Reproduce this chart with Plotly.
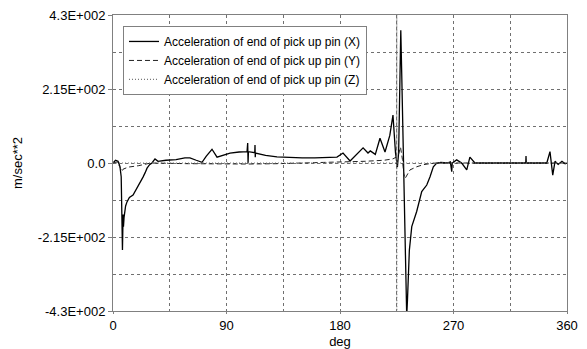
import plotly.graph_objects as go

# ---- data (deg, m/sec**2) ----
x_deg = [0, 2, 4, 5.5, 6.5, 7, 7.5, 8, 8.3, 8.8, 10, 11.1, 13, 15.9, 18, 19.8, 22, 23.8,
         25.5, 27, 29, 30.9, 33.3, 35.7, 42, 50, 57, 61, 66, 70.6, 74, 78.5, 82.5, 87,
         92.8, 100, 106.3, 106.8, 107.1, 107.4, 112.4, 112.6, 112.8, 113, 121, 130, 139,
         150, 160, 170, 177.6, 182.4, 188, 198.3, 202.2, 204, 208, 211.7, 215.7, 219.5,
         222, 224, 225.5, 226.5, 228.2, 229, 230.2, 231.5, 232.9, 233.5, 234.2, 235,
         236.9, 238.5, 240.8, 244.8, 248.8, 251.4, 254, 256.7, 260, 265, 267.5, 268.6,
         269, 272.5, 276.5, 280.5, 283, 287, 300, 327.3, 327.5, 327.7, 344, 346.5, 348.7,
         350.5, 353, 356, 358.5, 360]
x_acc = [0, 8, 5, -10, -40, -120, -253, -150, -185, -157, -125, -113, -100, -93, -80, -70,
         -55, -41, -28, -15, -5, 0, 12, 5, 8, 10, 15, 15, 8, 2, 20, 40, 17, 22,
         29, 32, 33, 58, 0, 33, 30, 52, 17, 29, 22, 18, 16,
         15, 15, 16, 17, 29, 6, 44, 29, 35, 25, 72, 32, 80,
         139, 30, -12, 30, 386, 250, 0, -200, -445, -398, -300, -253,
         -185, -165, -141, -83, -64, -40, -11, 0, 2, 0, 3, -25,
         0, 9, 0, -20, 17, 0, 0, 0, 20, 0, 0, 33, -35,
         5, -4, 5, -2, 0]

y_deg = [0, 3, 5.5, 7, 8, 12, 20, 25, 30, 60, 90, 107, 130, 150, 180, 200, 215, 222, 226,
         228, 229.5, 230.5, 231.6, 233, 235.5, 240.8, 246, 251, 256, 300, 360]
y_acc = [0, 3, -12, -25, -18, -12, -8, -3, 0, -2, -3, -3, -2, 0, 2, 5, 8, 12, 20,
         46, 10, -30, -45, -35, -20, -11, -5, -2, 0, 0, 0]

z_deg = [0, 225, 225, 225, 225, 360]
z_acc = [0, 0, 600, -600, 0, 0]

names = ["Acceleration of end of pick up pin (X)",
         "Acceleration of end of pick up pin (Y)",
         "Acceleration of end of pick up pin (Z)"]

y_tickvals = [430, 215, 0, -215, -430]
y_ticktext = ["4.3E+002", "2.15E+002", "0.0", "-2.15E+002", "-4.3E+002"]
x_tickvals = [0, 90, 180, 270, 360]

FONT = "Liberation Sans, Arial, sans-serif"

fig = go.Figure()
fig.add_trace(go.Scatter(x=x_deg, y=x_acc, mode="lines", name=names[0],
                         line=dict(color="black", width=1.3)))
fig.add_trace(go.Scatter(x=y_deg, y=y_acc, mode="lines", name=names[1],
                         line=dict(color="#222222", width=1, dash="5px,3px")))
fig.add_trace(go.Scatter(x=z_deg, y=z_acc, mode="lines", name=names[2],
                         line=dict(color="#777777", width=1.2, dash="1px,2px")))

fig.update_layout(
    width=587, height=349,
    margin=dict(l=113, r=20, t=15, b=38, autoexpand=False),
    paper_bgcolor="white", plot_bgcolor="white",
    font=dict(family=FONT, size=13, color="black"),
    showlegend=True,
    legend=dict(x=0.022, y=0.963, xanchor="left", yanchor="top",
                bgcolor="white", bordercolor="#808080", borderwidth=1,
                font=dict(size=12), itemwidth=30, tracegroupgap=0),
    xaxis=dict(range=[0, 360], tickvals=x_tickvals, ticktext=[str(v) for v in x_tickvals],
               automargin=False,
               showgrid=False, zeroline=False,
               showline=True, linecolor="#808080", linewidth=1, mirror=True,
               ticks="outside", ticklen=2, tickcolor="#808080",
               minor=dict(dtick=45, tick0=0, showgrid=True, gridcolor="#707070",
                          griddash="3px,3px", gridwidth=1, ticks=""),
               title=dict(text="deg", standoff=6, font=dict(size=13))),
    yaxis=dict(range=[-430, 430], tickvals=y_tickvals, ticktext=y_ticktext,
               automargin=False,
               showgrid=False, zeroline=False,
               showline=True, linecolor="#808080", linewidth=1, mirror=True,
               ticks="outside", ticklen=4, tickcolor="#808080",
               minor=dict(dtick=107.5, tick0=0, showgrid=True, gridcolor="#707070",
                          griddash="3px,3px", gridwidth=1, ticks=""),
               title=dict(text="m/sec**2", standoff=12, font=dict(size=13))),
)

fig.write_html("out.html", config={"displayModeBar": False},
               post_script="document.body.style.margin='0';document.body.style.padding='0';")
